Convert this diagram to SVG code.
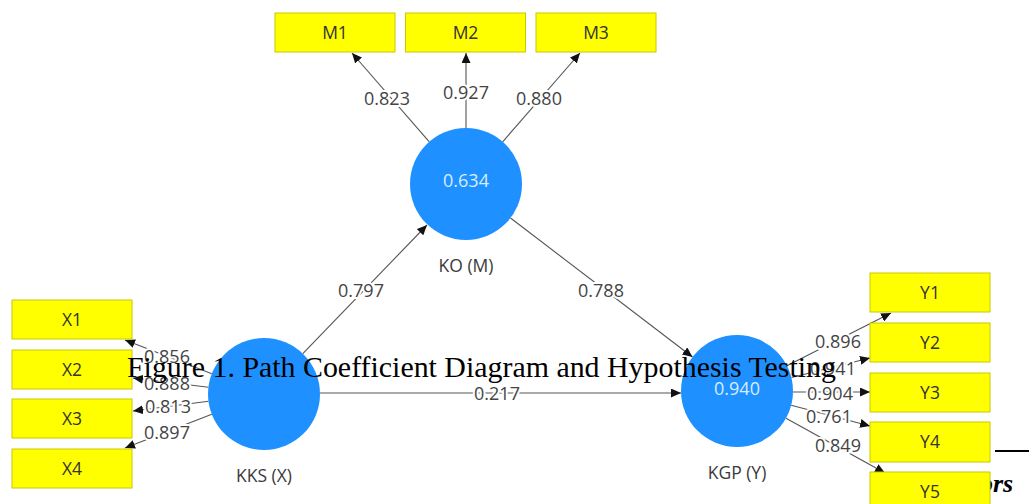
<svg xmlns="http://www.w3.org/2000/svg" width="1029" height="504" viewBox="0 0 1029 504">
<style>
.box{fill:#ffff00;stroke:#c9c900;stroke-width:1}
.bt{font-family:"Open Sans","Noto Sans",sans-serif;font-size:17.5px;fill:#333;text-anchor:middle}
.lv{fill:#1e90ff}
.lvt{font-family:"Open Sans","Noto Sans",sans-serif;font-size:18px;fill:#d6ecff;text-anchor:middle}
.nl{font-family:"Open Sans","Noto Sans",sans-serif;font-size:17.5px;fill:#3a3a3a;text-anchor:middle}
.ed{stroke:#555;stroke-width:1.1;fill:none;marker-end:url(#ah)}
.el{font-family:"Open Sans","Noto Sans",sans-serif;font-size:18px;fill:#444;text-anchor:middle;stroke:#fff;stroke-width:4;paint-order:stroke;stroke-linejoin:round}
.cap{font-family:"Liberation Serif","Times New Roman",serif;fill:#000}
</style>
<defs>
<marker id="ah" markerUnits="userSpaceOnUse" markerWidth="11" markerHeight="9" refX="10" refY="4.5" orient="auto">
<path d="M0,0 L10,4.5 L0,9 z" fill="#111"/>
</marker>
</defs>
<rect width="1029" height="504" fill="#fff"/>
<text class="cap" x="980" y="492" font-size="26" font-style="italic" font-weight="bold">ors</text>
<line x1="995" y1="451" x2="1029" y2="451" stroke="#000" stroke-width="2"/>
<g id="connectors">
<line class="ed" x1="429.3" y1="141.8" x2="352" y2="53"/>
<line class="ed" x1="466" y1="128" x2="466" y2="53"/>
<line class="ed" x1="502.7" y1="141.8" x2="580" y2="53"/>
<line class="ed" x1="302.8" y1="353.6" x2="427" y2="225"/>
<line class="ed" x1="510.5" y1="218" x2="692.5" y2="357"/>
<line class="ed" x1="320" y1="393" x2="681" y2="393"/>
<line class="ed" x1="211.8" y1="373.7" x2="125" y2="340"/>
<line class="ed" x1="208.4" y1="387.2" x2="133" y2="378"/>
<line class="ed" x1="208.5" y1="401.2" x2="133" y2="411"/>
<line class="ed" x1="211.8" y1="414.3" x2="125" y2="448"/>
<line class="ed" x1="787" y1="365.7" x2="891" y2="313"/>
<line class="ed" x1="791.4" y1="377.5" x2="870" y2="358"/>
<line class="ed" x1="793" y1="392" x2="870" y2="392"/>
<line class="ed" x1="791.2" y1="405.3" x2="870" y2="426"/>
<line class="ed" x1="786" y1="418.2" x2="885" y2="473"/>
<text class="el" x="387" y="105">0.823</text>
<text class="el" x="466" y="99">0.927</text>
<text class="el" x="539" y="105">0.880</text>
<text class="el" x="361" y="297">0.797</text>
<text class="el" x="601" y="297">0.788</text>
<text class="el" x="497" y="400">0.217</text>
<text class="el" x="167" y="363">0.856</text>
<text class="el" x="167" y="390">0.888</text>
<text class="el" x="168" y="413">0.813</text>
<text class="el" x="167" y="439">0.897</text>
<text class="el" x="838" y="348">0.896</text>
<text class="el" x="833" y="375">0.941</text>
<text class="el" x="830" y="400">0.904</text>
<text class="el" x="829" y="423">0.761</text>
<text class="el" x="838" y="452">0.849</text>
</g>
<g id="M1"><rect class="box" x="275" y="13" width="120" height="39"/><text class="bt" x="335" y="39">M1</text></g>
<g id="M2"><rect class="box" x="405.5" y="13" width="120" height="39"/><text class="bt" x="465.5" y="39">M2</text></g>
<g id="M3"><rect class="box" x="536" y="13" width="120" height="39"/><text class="bt" x="596" y="39">M3</text></g>
<g id="X1"><rect class="box" x="12" y="300" width="120" height="39"/><text class="bt" x="72" y="326">X1</text></g>
<g id="X2"><rect class="box" x="12" y="350" width="120" height="39"/><text class="bt" x="72" y="376">X2</text></g>
<g id="X3"><rect class="box" x="12" y="399" width="120" height="39"/><text class="bt" x="72" y="425">X3</text></g>
<g id="X4"><rect class="box" x="12" y="449" width="120" height="39"/><text class="bt" x="72" y="475">X4</text></g>
<g id="Y1"><rect class="box" x="870" y="273" width="120" height="39"/><text class="bt" x="930" y="299">Y1</text></g>
<g id="Y2"><rect class="box" x="870" y="323" width="120" height="39"/><text class="bt" x="930" y="349">Y2</text></g>
<g id="Y3"><rect class="box" x="870" y="373" width="120" height="39"/><text class="bt" x="930" y="399">Y3</text></g>
<g id="Y4"><rect class="box" x="870" y="422" width="120" height="40"/><text class="bt" x="930" y="448">Y4</text></g>
<g id="Y5"><rect class="box" x="870" y="472" width="120" height="39"/><text class="bt" x="930" y="498">Y5</text></g>
<g id="KO"><circle class="lv" cx="466" cy="184" r="56"/><text class="lvt" x="466" y="187">0.634</text><text class="nl" x="466" y="272">KO (M)</text></g>
<g id="KKS"><circle class="lv" cx="264" cy="394" r="56"/><text class="nl" x="264" y="482">KKS (X)</text></g>
<g id="KGP"><circle class="lv" cx="737" cy="391" r="56"/><text class="lvt" x="737" y="395">0.940</text><text class="nl" x="737" y="479">KGP (Y)</text></g>
<text class="cap" x="127" y="377" font-size="29.7" textLength="709" lengthAdjust="spacingAndGlyphs">Figure 1. Path Coefficient Diagram and Hypothesis Testing</text>
</svg>
